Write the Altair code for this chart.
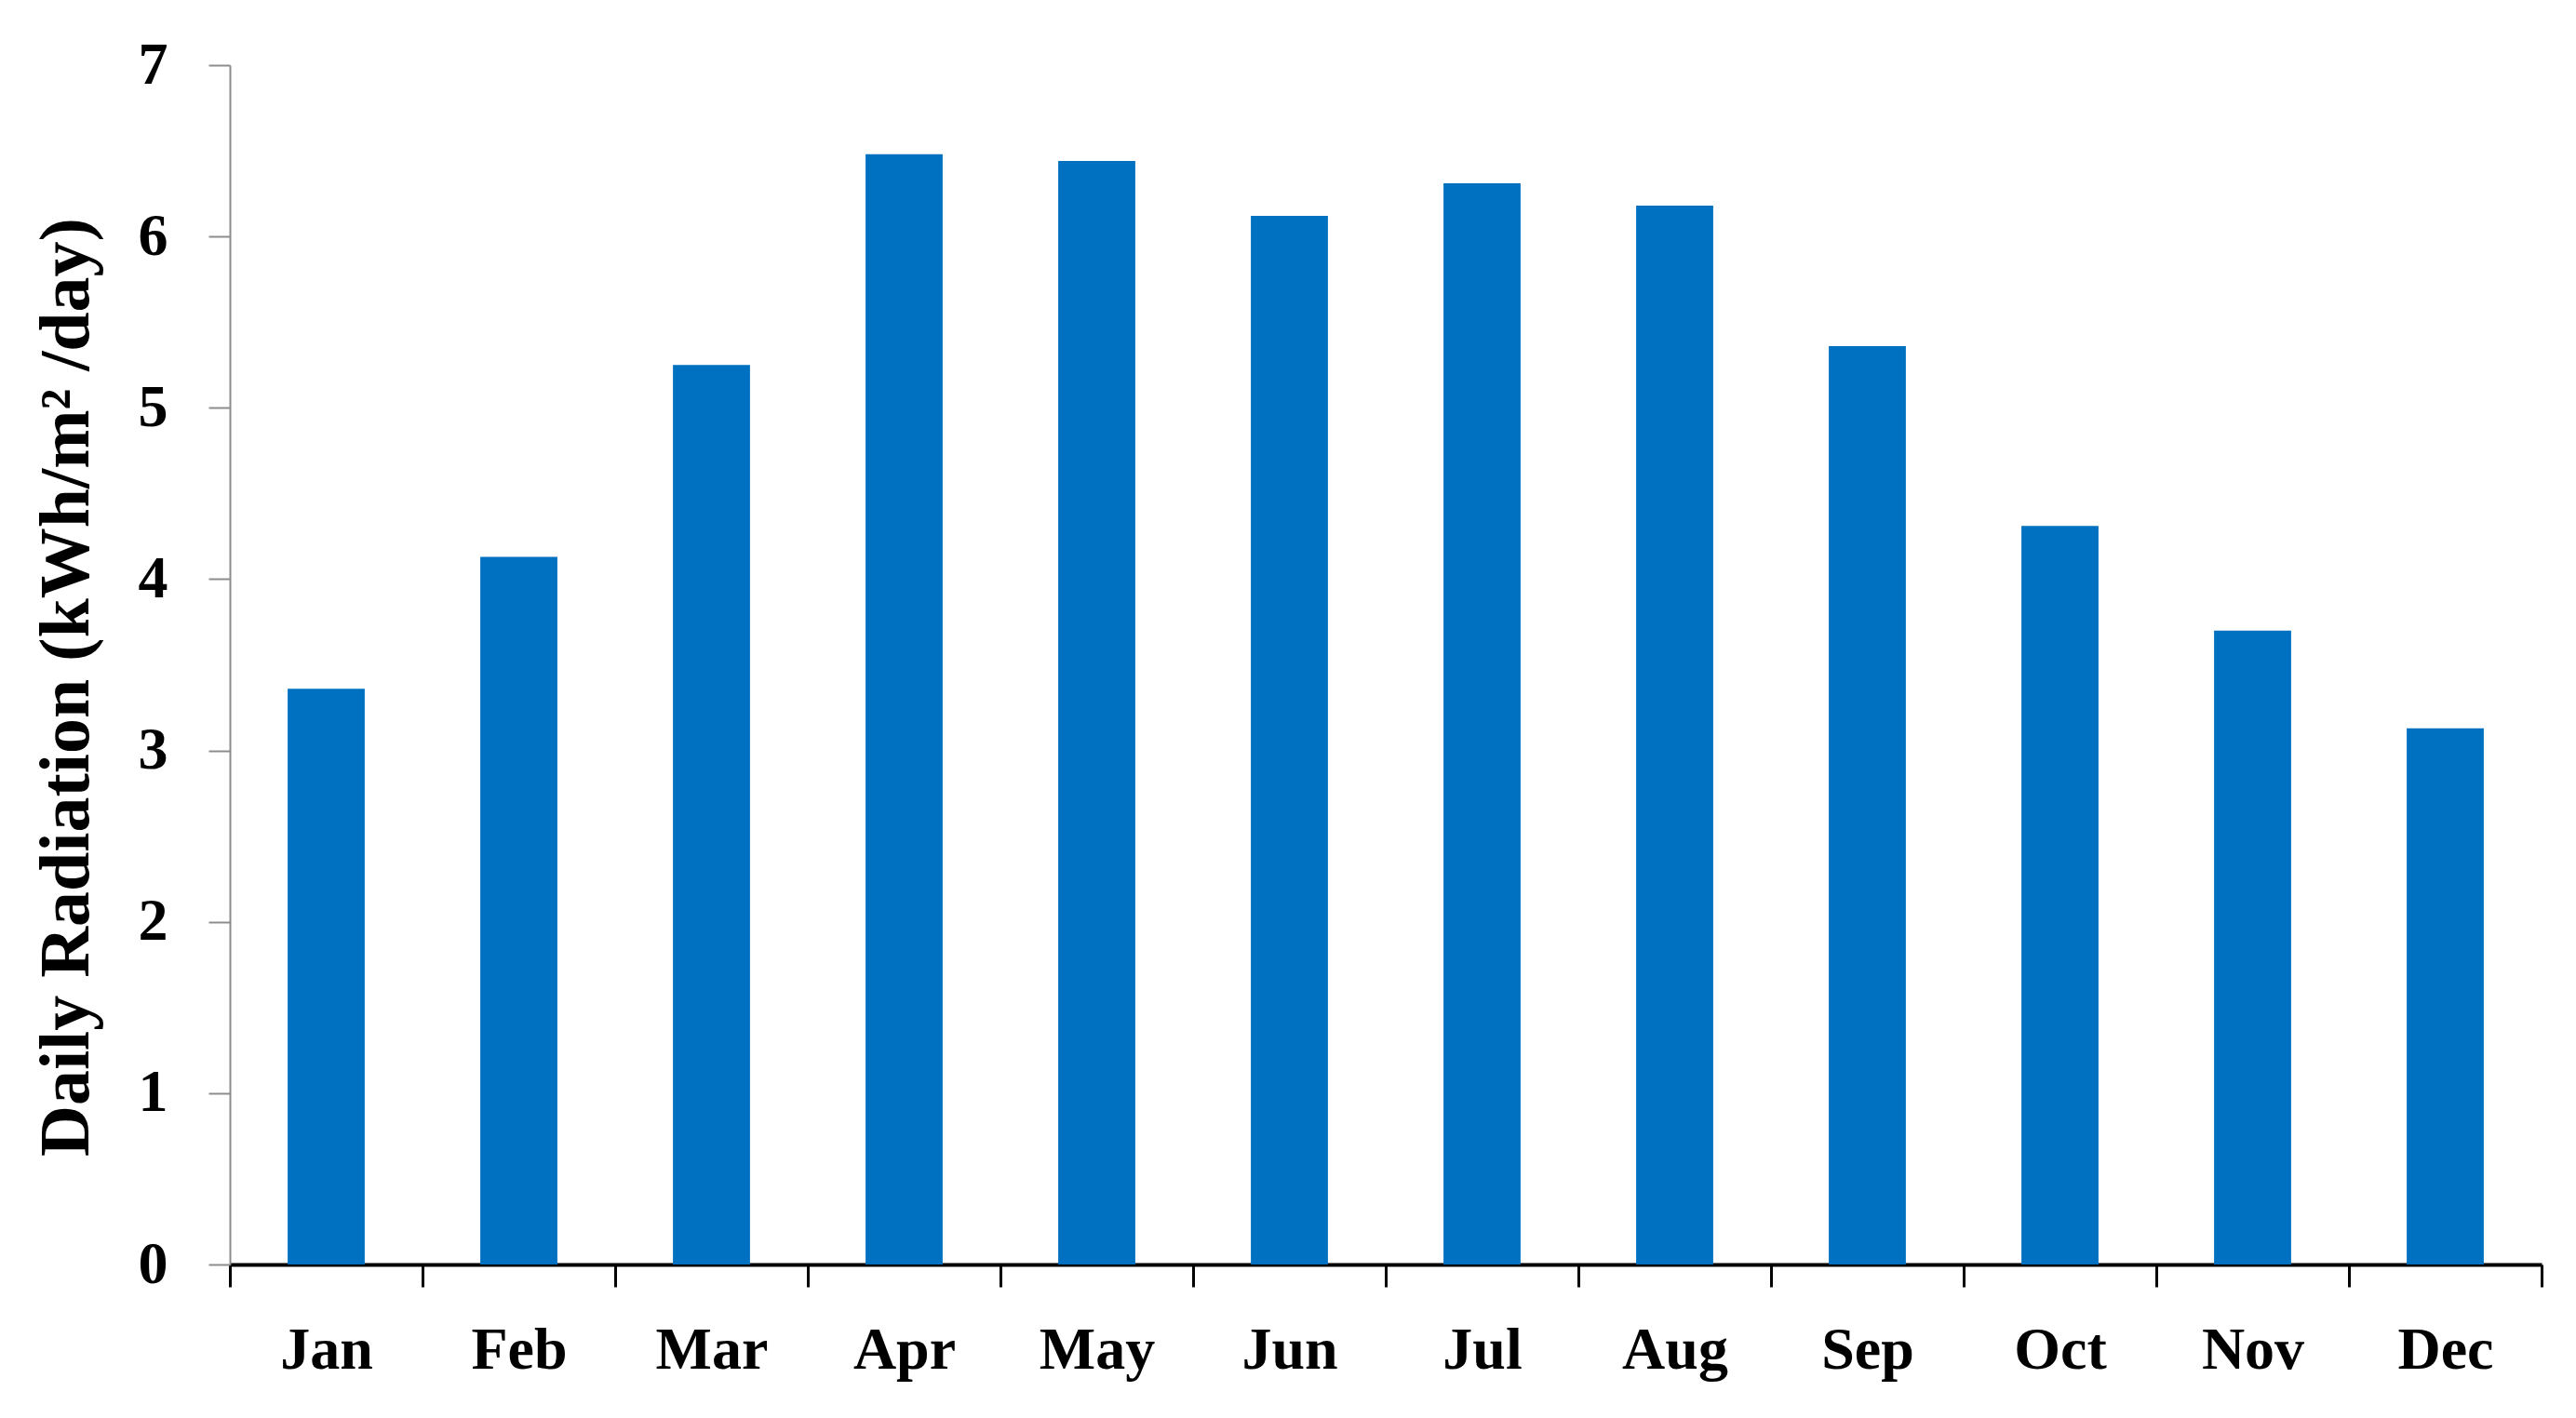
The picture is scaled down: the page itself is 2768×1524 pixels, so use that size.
import altair as alt
import pandas as pd

months = ["Jan", "Feb", "Mar", "Apr", "May", "Jun", "Jul", "Aug", "Sep", "Oct", "Nov", "Dec"]
radiation = [3.36, 4.13, 5.25, 6.48, 6.44, 6.12, 6.31, 6.18, 5.36, 4.31, 3.70, 3.13]
y_ticks = [0, 1, 2, 3, 4, 5, 6, 7]

df = pd.DataFrame({"month": months, "value": radiation})

W, H = 2484, 1289
FONT = "Liberation Serif"

bars = alt.Chart(df).mark_bar(color="#0071C1", width=alt.RelativeBandSize(0.4)).encode(
    x=alt.X(
        "month:N",
        sort=months,
        scale=alt.Scale(paddingInner=0, paddingOuter=0),
        axis=alt.Axis(
            title=None,
            labelAngle=0,
            labelFont=FONT,
            labelFontSize=64,
            labelFontWeight="bold",
            labelColor="black",
            labelPadding=36,
            tickBand="extent",
            tickColor="black",
            tickWidth=3,
            tickSize=24,
            domainColor="black",
            domainWidth=4,
            grid=False,
        ),
    ),
    y=alt.Y(
        "value:Q",
        scale=alt.Scale(domain=[0, 7], nice=False),
        axis=alt.Axis(
            title="Daily Radiation (kWh/m² /day)",
            values=y_ticks,
            format="d",
            labelFont=FONT,
            labelFontSize=64,
            labelFontWeight="bold",
            labelColor="black",
            labelPadding=44,
            tickColor="#8c8c8c",
            tickWidth=2,
            tickSize=23,
            domainColor="#8c8c8c",
            domainWidth=2,
            grid=False,
            titleFont=FONT,
            titleFontSize=76,
            titleFontWeight="bold",
            titleColor="black",
            titleAngle=-90,
            titleAlign="center",
            titleBaseline="middle",
            titleX=-176,
            titleY=668,
        ),
    ),
)

chart = bars.properties(
    width=W,
    height=H,
    autosize=alt.AutoSizeParams(type="none"),
    padding={"left": 239, "top": 62, "right": 29, "bottom": 157},
).configure(background="white").configure_view(strokeWidth=0, stroke=None)

chart.save("out.html", embed_options={"renderer": "svg", "actions": False})
